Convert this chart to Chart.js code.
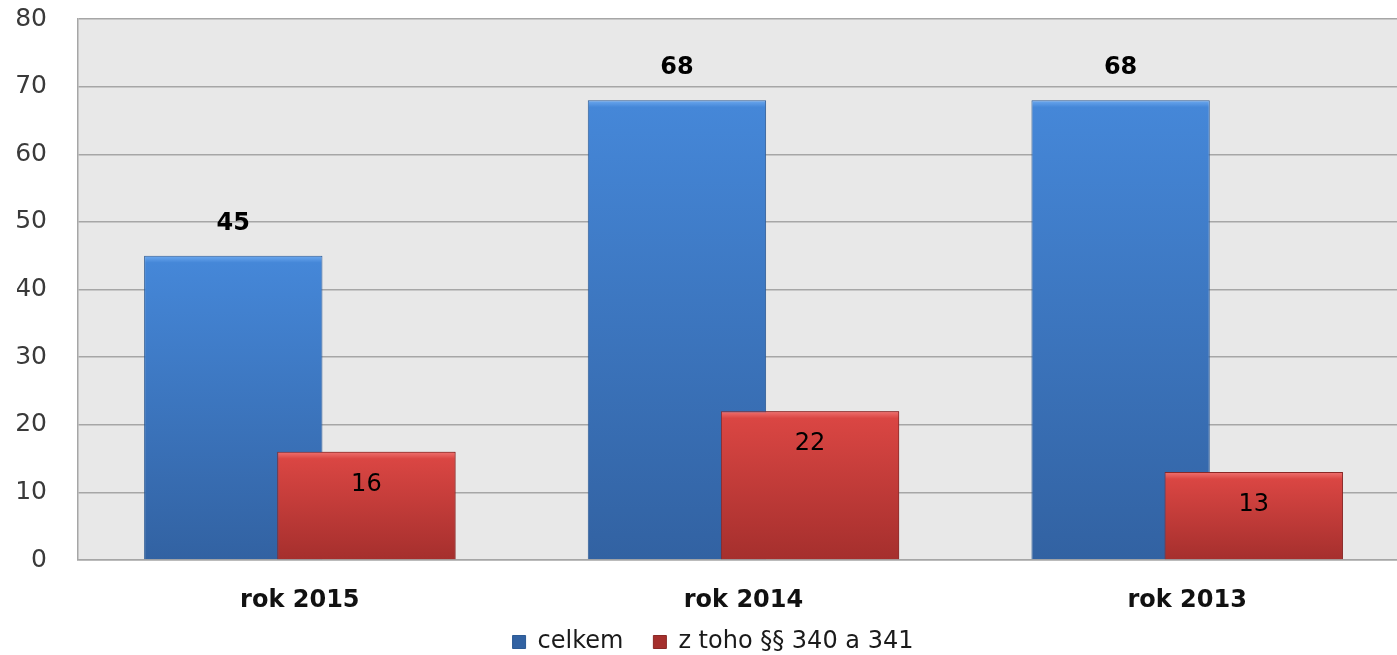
<!DOCTYPE html>
<html>
<head>
<meta charset="utf-8">
<script src="https://cdn.jsdelivr.net/npm/chart.js@4"></script>
<style>
  html, body { margin: 0; padding: 0; overflow: hidden; background: #fff; }
  #wrap { position: relative; width: 1410px; height: 680px; }
</style>
</head>
<body>
<div id="wrap"><canvas id="chart"></canvas></div>
<script>
const categories = ['rok 2015', 'rok 2014', 'rok 2013'];
const seriesNames = ['celkem', 'z toho §§ 340 a 341'];
const totalValues = [45, 68, 68];
const subsetValues = [16, 22, 13];
const yTicks = [0, 10, 20, 30, 40, 50, 60, 70, 80];

// vertical gradient for every bar, lighter at the top, with a thin bright rim
function barFill(rimColor, topColor, bottomColor) {
    return (c) => {
        const chart = c.chart;
        if (c.type !== 'data' || !chart.chartArea || !chart.scales.y) return topColor;
        const y = chart.scales.y;
        const y0 = y.getPixelForValue(c.parsed.y);
        const y1 = y.getPixelForValue(0);
        const rim = Math.min(0.3, 7 / Math.max(1, y1 - y0));
        const g = chart.ctx.createLinearGradient(0, y0, 0, y1);
        g.addColorStop(0, rimColor);
        g.addColorStop(rim, topColor);
        g.addColorStop(1, bottomColor);
        return g;
    };
}

// grey plot background, and the legend pulled up a little under the axis labels
const plotBackground = {
    id: 'plotBackground',
    afterLayout(chart) {
        chart.legend.top -= 16;
        chart.legend.bottom -= 16;
    },
    beforeDraw(chart) {
        const {ctx, chartArea} = chart;
        ctx.save();
        ctx.fillStyle = '#e8e8e8';
        ctx.fillRect(chartArea.left, chartArea.top, chartArea.right - chartArea.left, chartArea.bottom - chartArea.top);
        ctx.restore();
    }
};

// red bars go in front of the blue ones, then the value labels
const valueLabels = {
    id: 'valueLabels',
    afterDatasetsDraw(chart) {
        const ctx = chart.ctx;
        const area = chart.chartArea;
        ctx.save();
        ctx.beginPath();
        ctx.rect(area.left, area.top - 40, area.right - area.left, area.bottom - area.top + 40);
        ctx.clip();
        chart.getDatasetMeta(1).data.forEach(bar => bar.draw(ctx, area));
        ctx.restore();

        ctx.save();
        ctx.textAlign = 'center';
        ctx.textBaseline = 'middle';
        ctx.fillStyle = '#000';
        chart.getDatasetMeta(0).data.forEach((bar, i) => {
            ctx.font = 'bold 24px "DejaVu Sans"';
            ctx.fillText(totalValues[i], bar.x, bar.y - 32);
        });
        chart.getDatasetMeta(1).data.forEach((bar, i) => {
            ctx.font = '24px "DejaVu Sans"';
            ctx.fillText(subsetValues[i], bar.x, bar.y + 33);
        });
        ctx.restore();
    }
};

const ctx = document.getElementById('chart').getContext('2d');

const myChart = new Chart(ctx, {
    type: 'bar',
    data: {
        labels: categories,
        datasets: [
            {
                label: seriesNames[0],
                data: totalValues,
                backgroundColor: barFill('#6eaaf0', '#4587d8', '#3262a2'),
                borderColor: '#2c5a94',
                borderWidth: 1,
                categoryPercentage: 0.6,
                barPercentage: 1.34
            },
            {
                label: seriesNames[1],
                data: subsetValues,
                backgroundColor: barFill('#f07270', '#da4643', '#a52f2d'),
                borderColor: '#8a2826',
                borderWidth: 1,
                categoryPercentage: 0.6,
                barPercentage: 1.34
            }
        ]
    },
    options: {
        responsive: true,
        maintainAspectRatio: false,
        animation: false,
        layout: {
            padding: { left: 17, top: 19, right: 1, bottom: 0 }
        },
        plugins: {
            legend: {
                position: 'bottom',
                labels: {
                    boxWidth: 13,
                    boxHeight: 13,
                    padding: 30,
                    color: '#1a1a1a',
                    font: { family: 'DejaVu Sans', size: 24 }
                }
            },
            tooltip: { enabled: false }
        },
        scales: {
            y: {
                min: 0,
                max: 80,
                afterBuildTicks: (axis) => { axis.ticks = yTicks.map(v => ({ value: v })); },
                afterFit: (axis) => { axis.width = 61; axis.paddingTop = 0; axis.paddingBottom = 0; },
                grid: { color: '#a6a6a6', lineWidth: 1.5, drawTicks: false },
                border: { display: true, color: '#a6a6a6', width: 1.5 },
                ticks: {
                    padding: 31,
                    color: '#3a3a3a',
                    font: { family: 'DejaVu Sans', size: 25 }
                }
            },
            x: {
                afterFit: (axis) => { axis.height = 56; axis.paddingLeft = 0; axis.paddingRight = 0; },
                grid: { display: false, drawTicks: false },
                border: { display: true, color: '#a6a6a6', width: 1.5 },
                ticks: {
                    padding: 26,
                    color: '#111',
                    font: { family: 'DejaVu Sans', size: 24, weight: 'bold' }
                }
            }
        }
    },
    plugins: [plotBackground, valueLabels]
});
</script>
</body>
</html>
